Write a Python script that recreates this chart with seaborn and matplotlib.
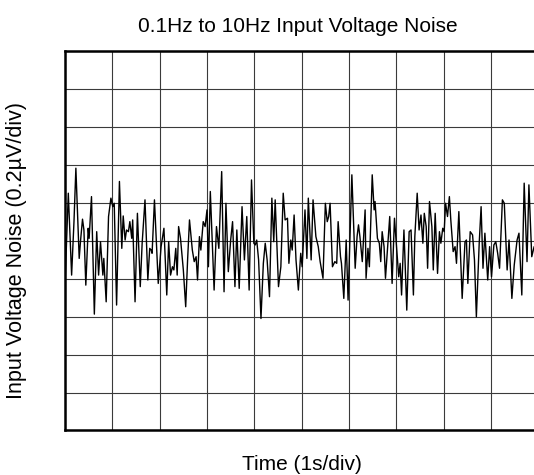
import matplotlib
matplotlib.use("Agg")
import matplotlib.pyplot as plt
import numpy as np
import pandas as pd
import seaborn as sns

# Time axis (s) and noise voltage (µV) of the recorded trace
time_s = [
    0.00, 0.07, 0.14, 0.19, 0.23, 0.30, 0.33, 0.37, 0.40, 0.44, 0.49, 0.51, 0.56, 0.62, 0.67, 0.71,
    0.75, 0.80, 0.82, 0.87, 0.92, 0.97, 1.01, 1.04, 1.09, 1.15, 1.20, 1.23, 1.27, 1.30, 1.34, 1.37,
    1.41, 1.43, 1.48, 1.53, 1.59, 1.63, 1.69, 1.75, 1.79, 1.82, 1.84, 1.89, 1.97, 2.03, 2.09, 2.15,
    2.19, 2.23, 2.27, 2.30, 2.34, 2.37, 2.40, 2.44, 2.50, 2.55, 2.59, 2.63, 2.69, 2.73, 2.77, 2.80,
    2.84, 2.87, 2.92, 2.96, 3.00, 3.03, 3.07, 3.15, 3.20, 3.25, 3.31, 3.36, 3.40, 3.45, 3.50, 3.54,
    3.59, 3.63, 3.68, 3.74, 3.79, 3.84, 3.89, 3.94, 3.99, 4.02, 4.05, 4.09, 4.14, 4.19, 4.23, 4.27,
    4.32, 4.37, 4.41, 4.44, 4.51, 4.56, 4.61, 4.65, 4.70, 4.73, 4.77, 4.80, 4.84, 4.88, 4.93, 4.98,
    5.01, 5.07, 5.11, 5.14, 5.20, 5.24, 5.30, 5.35, 5.39, 5.45, 5.50, 5.54, 5.57, 5.60, 5.65, 5.70,
    5.74, 5.77, 5.82, 5.84, 5.89, 5.94, 5.98, 6.06, 6.13, 6.17, 6.20, 6.23, 6.28, 6.34, 6.36, 6.40,
    6.43, 6.49, 6.53, 6.55, 6.60, 6.64, 6.67, 6.70, 6.74, 6.77, 6.82, 6.86, 6.91, 6.96, 7.01, 7.05,
    7.08, 7.11, 7.16, 7.22, 7.27, 7.31, 7.36, 7.39, 7.44, 7.48, 7.52, 7.56, 7.59, 7.63, 7.66, 7.70,
    7.75, 7.78, 7.82, 7.87, 7.91, 7.94, 7.98, 8.01, 8.04, 8.08, 8.12, 8.15, 8.20, 8.24, 8.27, 8.32,
    8.39, 8.45, 8.48, 8.51, 8.56, 8.61, 8.65, 8.69, 8.75, 8.79, 8.83, 8.87, 8.93, 8.97, 9.01, 9.06,
    9.10, 9.14, 9.18, 9.24, 9.28, 9.34, 9.38, 9.44, 9.49, 9.55, 9.59, 9.65, 9.70, 9.76, 9.80, 9.86,
    9.91,
]
noise_uv = [
    -0.233, 0.252, -0.180, 0.102, 0.384, -0.092, 0.005, 0.115, 0.058, -0.233, 0.067, 0.014, 0.234, -0.386, 0.049, -0.180,
    -0.004, -0.180, -0.092, -0.321, 0.129, 0.226, 0.181, 0.199, -0.338, 0.314, -0.039, 0.132, 0.005, 0.058, 0.049, 0.102,
    0.014, 0.111, -0.321, 0.146, -0.241, -0.012, 0.217, -0.206, -0.039, -0.048, -0.065, 0.217, -0.224, -0.030, 0.067, -0.285,
    -0.004, -0.180, -0.136, -0.153, -0.039, -0.180, 0.076, 0.014, -0.153, -0.347, -0.100, 0.111, -0.048, -0.109, -0.083, -0.206,
    0.023, -0.048, 0.102, 0.076, 0.164, -0.136, 0.261, -0.259, 0.076, -0.039, 0.366, -0.268, 0.199, -0.162, 0.005, 0.102,
    -0.241, 0.058, -0.250, 0.181, -0.100, 0.129, -0.259, 0.322, -0.012, -0.021, 0.005, -0.100, -0.409, -0.118, -0.012, -0.100,
    -0.294, 0.226, -0.004, 0.217, -0.241, -0.136, 0.252, 0.111, 0.120, -0.118, 0.005, -0.048, 0.137, -0.100, -0.259, -0.065,
    -0.136, 0.164, -0.092, 0.226, -0.100, 0.217, 0.023, -0.030, -0.109, -0.197, 0.199, 0.102, 0.129, 0.199, -0.136, -0.109,
    -0.118, 0.102, -0.083, -0.118, -0.303, 0.005, -0.312, 0.349, -0.144, 0.023, 0.085, 0.023, -0.109, 0.164, -0.197, -0.039,
    -0.136, 0.349, 0.164, 0.208, 0.014, -0.012, -0.109, 0.049, -0.030, -0.197, -0.012, 0.129, -0.224, 0.120, -0.048, -0.189,
    -0.118, -0.285, 0.058, -0.365, 0.049, 0.058, -0.285, 0.023, 0.252, 0.058, 0.137, -0.012, 0.146, 0.076, -0.144, 0.208,
    0.076, -0.153, 0.146, -0.171, 0.049, -0.012, 0.067, 0.049, 0.199, 0.129, 0.234, 0.111, -0.056, -0.030, -0.118, 0.155,
    -0.303, -0.004, 0.005, -0.224, 0.049, 0.032, -0.100, -0.400, -0.012, 0.181, -0.144, 0.041, -0.206, -0.030, -0.189, -0.021,
    -0.004, -0.065, -0.144, 0.217, 0.199, -0.153, 0.005, -0.303, -0.127, 0.005, 0.041, -0.285, 0.305, -0.109, 0.296, -0.083,
    -0.030,
]

# Scope-style grid: 1 s per horizontal division, 0.2 µV per vertical division
x_divisions = np.arange(0, 10.01, 1.0)
y_divisions = np.arange(-1.0, 1.001, 0.2)

sns.set_style("white")
plt.rcParams["font.family"] = ["Liberation Sans", "DejaVu Sans"]
plt.rcParams["text.color"] = "black"
plt.rcParams["axes.labelcolor"] = "black"

fig = plt.figure(figsize=(5.34, 4.75), dpi=100)
ax = fig.add_axes([0.1217, 0.0937, 0.8865, 0.798])

df = pd.DataFrame({"t": time_s, "v": noise_uv})
sns.lineplot(data=df, x="t", y="v", sort=False, color="black", linewidth=1.0, ax=ax)

ax.set_xlim(0, 10)
ax.set_ylim(-1.0, 1.0)
ax.set_xticks(x_divisions)
ax.set_yticks(y_divisions)
ax.set_xticklabels([])
ax.set_yticklabels([])
ax.tick_params(length=0)
ax.grid(True, color="#3a3a3a", linewidth=0.8)
ax.set_axisbelow(True)

for side in ["left", "bottom", "top", "right"]:
    ax.spines[side].set_color("black")
    ax.spines[side].set_linewidth(1.8)

ax.set_title("0.1Hz to 10Hz Input Voltage Noise", fontsize=15, pad=14, x=0.492, color="black")
ax.set_xlabel("Time (1s/div)", fontsize=15, labelpad=14.5, color="black")
ax.set_ylabel("Input Voltage Noise (0.2µV/div)", fontsize=15.5, labelpad=24, y=0.476, color="black")

fig.savefig("out.png", dpi=100)
